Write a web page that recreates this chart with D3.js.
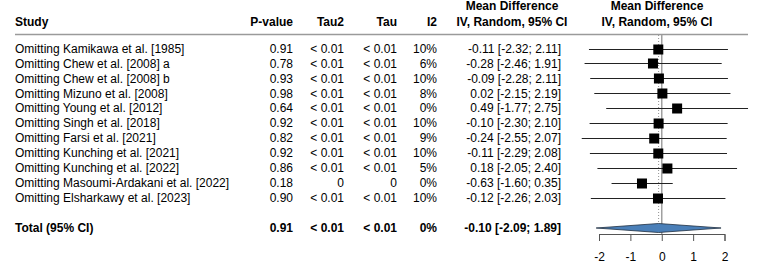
<!DOCTYPE html>
<html>
<head>
<meta charset="utf-8">
<script src="https://cdn.jsdelivr.net/npm/d3@7"></script>
<style>
  body { margin: 0; background: #fff; }
  svg { display: block; font-family: "Liberation Sans", Arial, sans-serif; }
</style>
</head>
<body>
<svg width="764" height="271"></svg>
<script>
// leave-one-out data
const studies = [
    "Omitting Kamikawa et al. [1985]",
    "Omitting Chew et al. [2008] a",
    "Omitting Chew et al. [2008] b",
    "Omitting Mizuno et al. [2008]",
    "Omitting Young et al. [2012]",
    "Omitting Singh et al. [2018]",
    "Omitting Farsi et al. [2021]",
    "Omitting Kunching et al. [2021]",
    "Omitting Kunching et al. [2022]",
    "Omitting Masoumi-Ardakani et al. [2022]",
    "Omitting Elsharkawy et al. [2023]"
];
const pValues = ["0.91", "0.78", "0.93", "0.98", "0.64", "0.92", "0.82", "0.92", "0.86", "0.18", "0.90"];
const tau2Values = ["< 0.01", "< 0.01", "< 0.01", "< 0.01", "< 0.01", "< 0.01", "< 0.01", "< 0.01", "< 0.01", "0", "< 0.01"];
const tauValues = ["< 0.01", "< 0.01", "< 0.01", "< 0.01", "< 0.01", "< 0.01", "< 0.01", "< 0.01", "< 0.01", "0", "< 0.01"];
const i2Values = ["10%", "6%", "10%", "8%", "0%", "10%", "9%", "10%", "5%", "0%", "10%"];
const meanDiff = [-0.11, -0.28, -0.09, 0.02, 0.49, -0.10, -0.24, -0.11, 0.18, -0.63, -0.12];
const lowerCI = [-2.32, -2.46, -2.28, -2.15, -1.77, -2.30, -2.55, -2.29, -2.05, -1.60, -2.26];
const upperCI = [2.11, 1.91, 2.11, 2.19, 2.75, 2.10, 2.07, 2.08, 2.40, 0.35, 2.03];

const total = { label: "Total (95% CI)", p: "0.91", tau2: "< 0.01", tau: "< 0.01", i2: "0%", md: -0.10, lo: -2.09, hi: 1.89 };
const axisTicks = [-2, -1, 0, 1, 2];

const svg = d3.select("svg");
const fmt = d3.format(".2f");
const num = v => fmt(v).replace("−", "-");
const ciText = (m, l, h) => `${num(m)} [${num(l)}; ${num(h)}]`;

const rowY = d3.scalePoint()
    .domain(d3.range(studies.length))
    .range([48.5, 197.5]);
const totalY = 228;

const scaleX = d3.scaleLinear()
    .domain([-2, 2])
    .range([599, 724.5]);

const cols = {
    study: 15,
    p: 293,
    tau2: 344,
    tau: 397,
    i2: 437,
    ci: 561,
    ciHead: 512,
    plotHead: 657
};

const fontSize = 12;

// headers
const head = svg.append("g")
    .attr("font-weight", "bold")
    .attr("font-size", fontSize)
    .attr("fill", "#000");

head.append("text").attr("x", cols.study).attr("y", 26).text("Study");
head.append("text").attr("x", cols.p).attr("y", 26).attr("text-anchor", "end").text("P-value");
head.append("text").attr("x", cols.tau2).attr("y", 26).attr("text-anchor", "end").text("Tau2");
head.append("text").attr("x", cols.tau).attr("y", 26).attr("text-anchor", "end").text("Tau");
head.append("text").attr("x", cols.i2).attr("y", 26).attr("text-anchor", "end").text("I2");
[cols.ciHead, cols.plotHead].forEach(x => {
    head.append("text").attr("x", x).attr("y", 10).attr("text-anchor", "middle").text("Mean Difference");
    head.append("text").attr("x", x).attr("y", 26).attr("text-anchor", "middle").text("IV, Random, 95% CI");
});

svg.append("line")
    .attr("x1", 15).attr("x2", 748)
    .attr("y1", 34.5).attr("y2", 34.5)
    .attr("stroke", "#9a9a9a")
    .attr("stroke-width", 1.6);

// study rows
const body = svg.append("g").attr("font-size", fontSize).attr("fill", "#000");
studies.forEach((s, i) => {
    const y = rowY(i) + 4.3;
    body.append("text").attr("x", cols.study).attr("y", y).text(s);
    body.append("text").attr("x", cols.p).attr("y", y).attr("text-anchor", "end").text(pValues[i]);
    body.append("text").attr("x", cols.tau2).attr("y", y).attr("text-anchor", "end").text(tau2Values[i]);
    body.append("text").attr("x", cols.tau).attr("y", y).attr("text-anchor", "end").text(tauValues[i]);
    body.append("text").attr("x", cols.i2).attr("y", y).attr("text-anchor", "end").text(i2Values[i]);
    body.append("text").attr("x", cols.ci).attr("y", y).attr("text-anchor", "end").text(ciText(meanDiff[i], lowerCI[i], upperCI[i]));
});

// total row
const tot = svg.append("g").attr("font-size", fontSize).attr("font-weight", "bold").attr("fill", "#000");
const ty = totalY + 4.3;
tot.append("text").attr("x", cols.study).attr("y", ty).text(total.label);
tot.append("text").attr("x", cols.p).attr("y", ty).attr("text-anchor", "end").text(total.p);
tot.append("text").attr("x", cols.tau2).attr("y", ty).attr("text-anchor", "end").text(total.tau2);
tot.append("text").attr("x", cols.tau).attr("y", ty).attr("text-anchor", "end").text(total.tau);
tot.append("text").attr("x", cols.i2).attr("y", ty).attr("text-anchor", "end").text(total.i2);
tot.append("text").attr("x", cols.ci).attr("y", ty).attr("text-anchor", "end").text(ciText(total.md, total.lo, total.hi));

// reference lines
const axisY = 234;
svg.append("line")
    .attr("x1", scaleX(0)).attr("x2", scaleX(0))
    .attr("y1", 35).attr("y2", axisY)
    .attr("stroke", "#a0a0a0")
    .attr("stroke-width", 1.5);

svg.append("line")
    .attr("x1", scaleX(total.md)).attr("x2", scaleX(total.md))
    .attr("y1", 35).attr("y2", totalY)
    .attr("stroke", "#909090")
    .attr("stroke-width", 1)
    .attr("stroke-dasharray", "1,2");

// confidence intervals
svg.selectAll("line.ci")
    .data(studies)
    .enter()
    .append("line")
    .attr("class", "ci")
    .attr("x1", (d, i) => scaleX(lowerCI[i]))
    .attr("x2", (d, i) => scaleX(upperCI[i]))
    .attr("y1", (d, i) => Math.round(rowY(i)) + 0.5)
    .attr("y2", (d, i) => Math.round(rowY(i)) + 0.5)
    .attr("stroke", "#222")
    .attr("stroke-width", 1);

const box = 10;
svg.selectAll("rect.est")
    .data(studies)
    .enter()
    .append("rect")
    .attr("class", "est")
    .attr("x", (d, i) => scaleX(meanDiff[i]) - box / 2)
    .attr("y", (d, i) => Math.round(rowY(i)) + 0.5 - box / 2)
    .attr("width", box)
    .attr("height", box)
    .attr("fill", "#000");

// pooled diamond
const dh = 4.5;
svg.append("path")
    .attr("d", d3.line()([
        [scaleX(total.lo), totalY],
        [scaleX(total.md), totalY - dh],
        [scaleX(total.hi), totalY],
        [scaleX(total.md), totalY + dh]
    ]) + "Z")
    .attr("fill", "#4a7fb8")
    .attr("stroke", "#1f2f40")
    .attr("stroke-width", 0.8);

// axis
const axis = d3.axisBottom(scaleX)
    .tickValues(axisTicks)
    .tickFormat(d3.format("d"))
    .tickSize(7)
    .tickPadding(11);

const gAxis = svg.append("g")
    .attr("transform", `translate(0, ${axisY})`)
    .call(axis);
gAxis.select(".domain").attr("stroke", "#555");
gAxis.selectAll(".tick line").attr("stroke", "#555");
gAxis.selectAll(".tick text")
    .attr("font-size", 12)
    .attr("font-family", "Liberation Sans, Arial, sans-serif")
    .attr("fill", "#000")
    .text(d => String(d));
</script>
</body>
</html>
